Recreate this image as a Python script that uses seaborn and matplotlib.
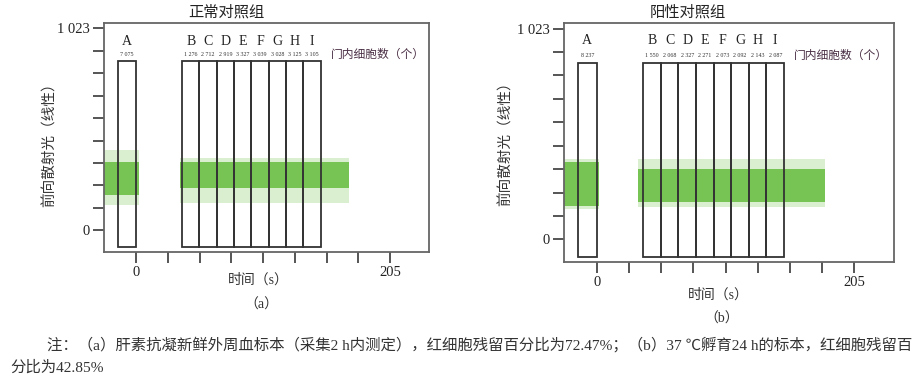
import matplotlib
matplotlib.use("Agg")
import matplotlib.pyplot as plt
import seaborn as sns
from matplotlib.patches import Rectangle

# gates (time windows, s) and cell counts inside each gate
gate_names = ["A", "B", "C", "D", "E", "F", "G", "H", "I"]
gate_left = [-15, 37, 51, 65, 79, 93, 107, 121, 135]
gate_right = [0, 51, 65, 79, 93, 107, 121, 135, 149]
gate_low, gate_high = -85, 855
counts_normal = ["7 075", "1 276", "2 712", "2 919", "3 327", "3 039", "3 028", "3 125", "3 105"]
counts_positive = ["8 237", "1 550", "2 068", "2 327", "2 271", "2 073", "2 092", "2 143", "2 087"]

# scatter cloud: x span, dense core, sparse fringe (FSC)
cloud_x0_normal = [-26, 35]
cloud_x1_normal = [2, 172]
core_lo_normal = [177, 213]
core_hi_normal = [344, 344]
fringe_lo_normal = [127, 137]
fringe_hi_normal = [405, 365]

cloud_x0_positive = [-26, 33]
cloud_x1_positive = [2, 182]
core_lo_positive = [160, 179]
core_hi_positive = [373, 339]
fringe_lo_positive = [145, 155]
fringe_hi_positive = [388, 388]

ytick_vals = [0, 113.7, 227.3, 341, 454.7, 568.3, 682, 795.7, 909.3, 1023]
xtick_vals = [0, 25.6, 51.3, 76.9, 102.5, 128.1, 153.8, 179.4, 205]

sns.set_theme(style="white")
plt.rcParams["font.family"] = ["Liberation Serif", "Noto Sans CJK SC", "DejaVu Sans"]

GREEN = "#6cbf45"
fig = plt.figure(figsize=(9.19, 3.79), dpi=100)
ax1 = fig.add_axes([0.1132, 0.3351, 0.3537, 0.6042])
ax2 = fig.add_axes([0.6137, 0.3087, 0.3591, 0.6306])


def draw_panel(ax, counts, x0, x1, clo, chi, flo, fhi, letter_y, count_y):
    for a, b, lo, hi, l2, h2 in zip(x0, x1, clo, chi, flo, fhi):
        ax.fill_between([a, b], [l2, l2], [h2, h2], color=GREEN, alpha=0.25, lw=0)
        ax.fill_between([a, b], [lo, lo], [hi, hi], color=GREEN, alpha=0.9, lw=0)
    for name, l, r, c in zip(gate_names, gate_left, gate_right, counts):
        ax.add_patch(Rectangle((l, gate_low), r - l, gate_high - gate_low,
                               fill=False, ec="#333333", lw=1.3, zorder=3))
        ax.text((l + r) / 2, letter_y, name, ha="center", va="center",
                fontsize=10, color="#222222")
        ax.text((l + r) / 2, count_y, c, ha="center", va="center",
                fontsize=4.3, color="#333333")
    ax.text(157, count_y, "门内细胞数（个）", ha="left", va="center",
            fontsize=8.5, color="#4a2f45")
    ax.set_xlim(-26, 236.5)
    ax.set_ylim(-110, 1050)
    ax.set_yticks(ytick_vals)
    ax.set_yticklabels(["0"] + [""] * 8 + ["1 023"])
    ax.set_xticks(xtick_vals)
    ax.set_xticklabels(["0"] + [""] * 7 + ["205"])
    ax.tick_params(axis="both", direction="out", length=8, width=1.4,
                   color="#555555", labelsize=10.5, labelcolor="#222222",
                   left=True, bottom=True, pad=2)
    for s in ax.spines.values():
        s.set_color("#666666")
        s.set_linewidth(1.3)


draw_panel(ax1, counts_normal, cloud_x0_normal, cloud_x1_normal,
           core_lo_normal, core_hi_normal, fringe_lo_normal, fringe_hi_normal, 957, 891)
draw_panel(ax2, counts_positive, cloud_x0_positive, cloud_x1_positive,
           core_lo_positive, core_hi_positive, fringe_lo_positive, fringe_hi_positive, 965, 892)


def px(x, y):
    return x / 919, 1 - y / 379


fig.text(*px(226, 12), "正常对照组", ha="center", va="center", fontsize=11, color="#222222")
fig.text(*px(688, 12), "阳性对照组", ha="center", va="center", fontsize=11, color="#222222")
fig.text(*px(50, 141), "前向散射光（线性）", ha="center", va="center", rotation=90,
         fontsize=10.5, color="#333333")
fig.text(*px(506, 140), "前向散射光（线性）", ha="center", va="center", rotation=90,
         fontsize=10.5, color="#333333")
fig.text(*px(258, 280), "时间（s）", ha="center", va="center", fontsize=10, color="#333333")
fig.text(*px(718, 295), "时间（s）", ha="center", va="center", fontsize=10, color="#333333")
fig.text(*px(261, 305), "（a）", ha="center", va="center", fontsize=10, color="#333333")
fig.text(*px(722, 319), "（b）", ha="center", va="center", fontsize=10, color="#333333")

fig.text(*px(47, 345),
         "注：（a）肝素抗凝新鲜外周血标本（采集2 h内测定），红细胞残留百分比为72.47%；"
         "（b）37 ℃孵育24 h的标本，红细胞残留百",
         ha="left", va="center", fontsize=11.1, color="#333333")
fig.text(*px(10, 368), "分比为42.85%", ha="left", va="center", fontsize=11.1, color="#333333")

fig.savefig("out.png", dpi=100)
